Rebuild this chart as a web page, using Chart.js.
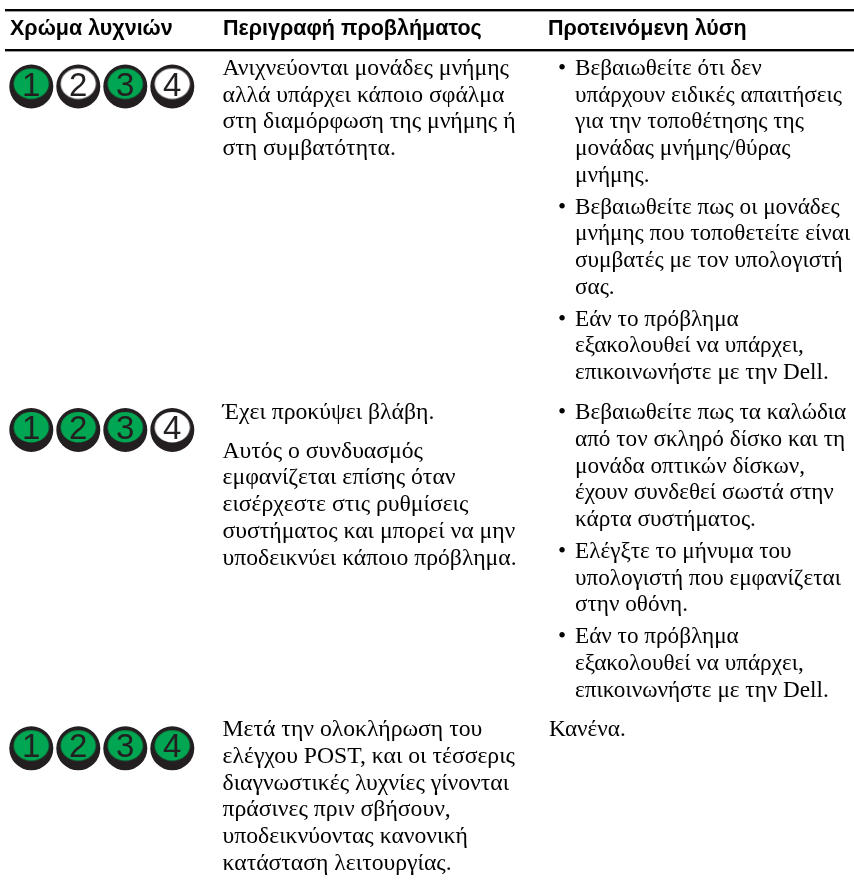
<!DOCTYPE html>
<html lang="el">
<head>
<meta charset="utf-8">
<style>html,body{margin:0;padding:0;background:#fff}#wrap{position:relative;width:854px;height:880px}canvas{display:block}</style>
<script src="https://cdn.jsdelivr.net/npm/chart.js@4/dist/chart.umd.min.js"></script>
</head>
<body>
<div id="wrap"><canvas id="c" width="854" height="880"></canvas></div>
<script>
const lampNumbers = [1, 2, 3, 4];
const rowLampStates = [
  [1, 0, 1, 0],
  [1, 1, 1, 0],
  [1, 1, 1, 1]
];
const columnHeaders = ["Χρώμα λυχνιών", "Περιγραφή προβλήματος", "Προτεινόμενη λύση"];
const problemTexts = [
  [["Ανιχνεύονται μονάδες μνήμης", "αλλά υπάρχει κάποιο σφάλμα", "στη διαμόρφωση της μνήμης ή", "στη συμβατότητα."]],
  [["Έχει προκύψει βλάβη."], ["Αυτός ο συνδυασμός", "εμφανίζεται επίσης όταν", "εισέρχεστε στις ρυθμίσεις", "συστήματος και μπορεί να μην", "υποδεικνύει κάποιο πρόβλημα."]],
  [["Μετά την ολοκλήρωση του", "ελέγχου POST, και οι τέσσερις", "διαγνωστικές λυχνίες γίνονται", "πράσινες πριν σβήσουν,", "υποδεικνύοντας κανονική", "κατάσταση λειτουργίας."]]
];
const solutionTexts = [
  [["Βεβαιωθείτε ότι δεν", "υπάρχουν ειδικές απαιτήσεις", "για την τοποθέτησης της", "μονάδας μνήμης/θύρας", "μνήμης."],
   ["Βεβαιωθείτε πως οι μονάδες", "μνήμης που τοποθετείτε είναι", "συμβατές με τον υπολογιστή", "σας."],
   ["Εάν το πρόβλημα", "εξακολουθεί να υπάρχει,", "επικοινωνήστε με την Dell."]],
  [["Βεβαιωθείτε πως τα καλώδια", "από τον σκληρό δίσκο και τη", "μονάδα οπτικών δίσκων,", "έχουν συνδεθεί σωστά στην", "κάρτα συστήματος."],
   ["Ελέγξτε το μήνυμα του", "υπολογιστή που εμφανίζεται", "στην οθόνη."],
   ["Εάν το πρόβλημα", "εξακολουθεί να υπάρχει,", "επικοινωνήστε με την Dell."]],
  [["Κανένα."]]
];

/* layout of the page, in canvas pixels */
const W = 854, H = 880;
const LAMP_STEP = 47, LAMP_FIRST_X = 31.3;
const RING_R = 22;
const ROW_CENTRE = [86.5, 430, 748.3];
const ROW_FIRST_BASE = [75, 419.3, 736.3];
const LINE = 26.7, SOL_GAP = 5.2, PROB_GAP = 11.7;
const COL_X = [10, 223, 548], BODY_X = [222.5, 549], BULLET_X = 558, BULLET_TEXT_X = 575;
const PROB_FONT = '23.7px "Liberation Serif"', SOL_FONT = '23.2px "Liberation Serif"';
const HEAD_FONT = 'bold 21.5px "Liberation Sans"', NUM_FONT = '33px "Liberation Sans"';

function lampPoints(state) {
  const pts = [];
  rowLampStates.forEach((row, r) => row.forEach((on, i) => {
    if (state === null || on === state) pts.push({x: lampNumbers[i], y: r, n: lampNumbers[i]});
  }));
  return pts;
}

/* lamp face: slightly flattened, sitting above the ring's centre */
function faceSprite(colour) {
  const s = document.createElement('canvas');
  s.width = 44; s.height = 44;
  const c = s.getContext('2d');
  c.fillStyle = colour;
  c.beginPath();
  c.ellipse(22, 19.2, 17.6, 15.2, 0, 0, Math.PI * 2);
  c.fill();
  return s;
}

const tableText = {
  id: 'tableText',
  afterDatasetsDraw(chart) {
    const ctx = chart.ctx, sy = chart.scales.y, sx = chart.scales.x;
    ctx.save();
    ctx.fillStyle = '#000';
    ctx.fillRect(5, 9, W - 5, 2.4);
    ctx.fillRect(5, 49, W - 5, 2.4);
    ctx.textBaseline = 'alphabetic';
    ctx.textAlign = 'left';
    ctx.font = HEAD_FONT;
    columnHeaders.forEach((h, i) => ctx.fillText(h, COL_X[i], 34.5));
    const block = (paras, x, y, bullets, gap) => {
      paras.forEach(lines => {
        if (bullets) ctx.fillText('•', BULLET_X, y);
        lines.forEach(l => { ctx.fillText(l, bullets ? BULLET_TEXT_X : x, y); y += LINE; });
        y += gap;
      });
    };
    ctx.font = PROB_FONT;
    problemTexts.forEach((p, r) => block(p, BODY_X[0], ROW_FIRST_BASE[r], false, PROB_GAP));
    ctx.font = SOL_FONT;
    solutionTexts.forEach((p, r) => block(p, BODY_X[1], ROW_FIRST_BASE[r], p.length > 1, SOL_GAP));
    ctx.fillStyle = '#231f20';
    ctx.font = NUM_FONT;
    ctx.textAlign = 'center';
    lampPoints(null).forEach(p => {
      ctx.fillText(String(p.n), sx.getPixelForValue(p.x), sy.getPixelForValue(p.y) + 9);
    });
    ctx.restore();
  }
};

/* y axis maps row index to the row's centre: the table's rows have unequal heights */
class RowScale extends Chart.LinearScale {
  static id = 'rowScale';
  static defaults = Chart.LinearScale.defaults;
  getPixelForValue(v) { return ROW_CENTRE[v]; }
}
Chart.register(RowScale);

new Chart(document.getElementById('c'), {
  type: 'scatter',
  data: {
    datasets: [
      {label: 'Περίβλημα', data: lampPoints(null), pointRadius: RING_R, pointHoverRadius: RING_R,
       pointBackgroundColor: '#231f20', pointBorderWidth: 0, order: 3, clip: false},
      {label: 'Σβηστή', data: lampPoints(0), pointRadius: RING_R, pointHoverRadius: RING_R,
       pointStyle: faceSprite('#ffffff'), order: 2, clip: false},
      {label: 'Αναμμένη', data: lampPoints(1), pointRadius: RING_R, pointHoverRadius: RING_R,
       pointStyle: faceSprite('#00a651'), order: 1, clip: false}
    ]
  },
  options: {
    responsive: false, animation: false, events: [],
    layout: {padding: 0, autoPadding: false},
    plugins: {legend: {display: false}, tooltip: {enabled: false}, title: {display: false}},
    scales: {
      x: {type: 'linear', display: false, min: 1 - LAMP_FIRST_X / LAMP_STEP, max: 1 + (W - LAMP_FIRST_X) / LAMP_STEP},
      y: {type: 'rowScale', display: false, min: 0, max: 2}
    }
  },
  plugins: [tableText]
});
</script>
</body>
</html>
